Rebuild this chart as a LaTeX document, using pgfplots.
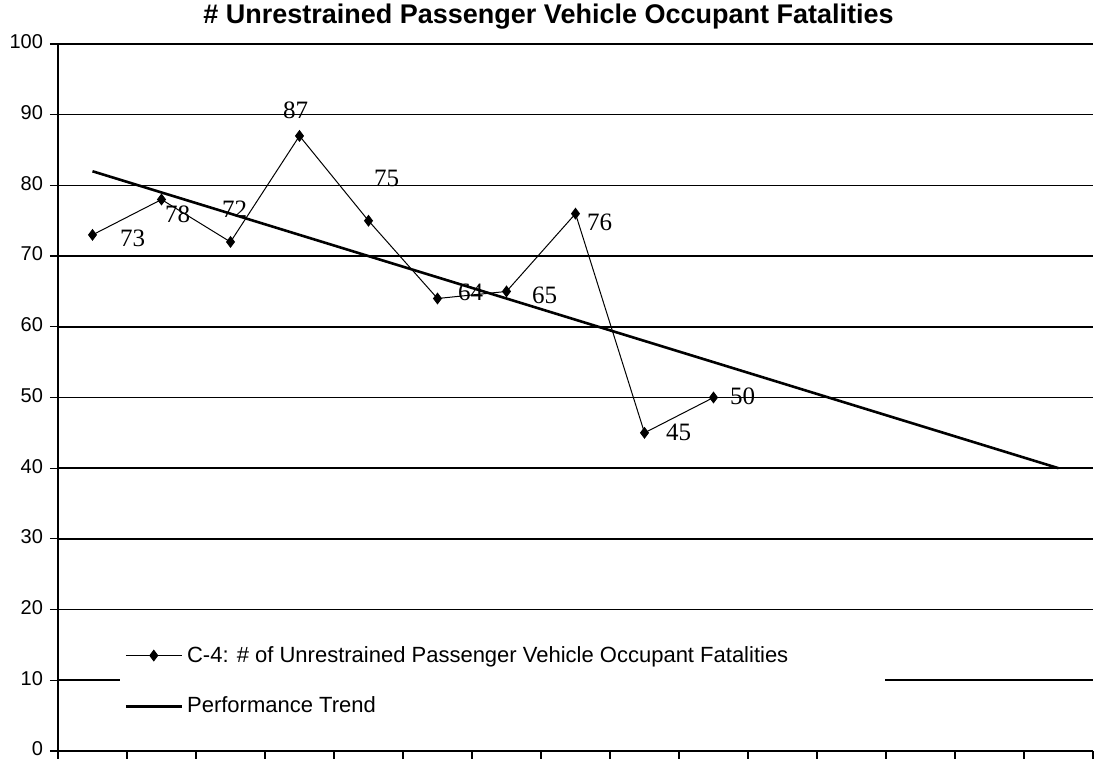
\documentclass[border=0pt]{standalone}
\usepackage{pgfplots}
\pgfplotsset{compat=1.18}
\usepackage{pgfplotstable}
\usepackage{fontspec}
\setmainfont{Liberation Sans}
\newfontfamily\serifnum{Liberation Serif}

% fatalities with label offsets (pt)
\pgfplotstableread{
x   y   dx    dy
0.5 73  20   -1.5
1.5 78  8    -7.5
2.5 72  2    16.5
3.5 87  -2   13
4.5 75  9    21
5.5 64  16.5 3
6.5 65  19   -2
7.5 76  12   -4.5
8.5 45  17   0
9.5 50  14.5 0.5
}\fatalities

\pgfplotstableread{
x    y
0.5  82
1.5  79
2.5  76
3.5  73
4.5  70
5.5  67
6.5  64
7.5  61
8.5  58
9.5  55
10.5 52
11.5 49
12.5 46
13.5 43
14.5 40
}\trend

\begin{document}
\begin{tikzpicture}
\path[use as bounding box] (-29pt,-4pt) rectangle (520pt,375.5pt);
\begin{axis}[
at={(0,0)}, anchor=south west,
scale only axis, width=517.5pt, height=353.5pt,
xmin=0, xmax=15, ymin=0, ymax=100,
xtick={0,...,15}, xticklabels={},
ytick={0,10,...,100},
ymajorgrids, grid style={black, line width=0.8pt},
axis x line*=bottom, axis y line*=left,
axis line style={-, black, line width=0.6pt},
tick align=outside, major tick length=4pt,
tick style={black, line width=0.6pt},
y tick label style={font=\fontsize{10}{12}\selectfont, yshift=1pt},
/pgf/number format/assume math mode=true,
title={\bfseries\# Unrestrained Passenger Vehicle Occupant Fatalities},
title style={at={(0.5,1)}, anchor=center, yshift=7.5pt, xshift=-13.5pt,
  font=\fontsize{13.5}{15}\selectfont},
legend cell align=left,
legend style={draw=none, fill=white, at={(0.06,0.099)}, anchor=west,
  row sep=12pt, font=\fontsize{11}{13}\selectfont, inner xsep=2pt},
legend image code/.code={\draw[#1, mark repeat=2, mark phase=2]
  plot coordinates {(0pt,0pt) (14pt,0pt) (28pt,0pt)};},
]
\addplot[black, line width=0.5pt, mark=diamond*, mark size=2.6pt,
  mark options={solid, fill=black},
  nodes near coords, point meta=explicit symbolic,
  visualization depends on={\thisrow{dx} \as \dx},
  visualization depends on={\thisrow{dy} \as \dy},
  every node near coord/.append style={anchor=center, xshift=\dx pt, yshift=\dy pt,
    font=\serifnum\fontsize{12.5}{14}\selectfont, inner sep=0pt}]
  table[x=x, y=y, meta=y] {\fatalities};
\addlegendentry{\makebox[345pt][l]{C-4: \# of Unrestrained Passenger Vehicle Occupant Fatalities}}
\addplot[black, line width=1.3pt, no marks] table[x=x, y=y] {\trend};
\addlegendentry{Performance Trend}
\end{axis}
\end{tikzpicture}
\end{document}
